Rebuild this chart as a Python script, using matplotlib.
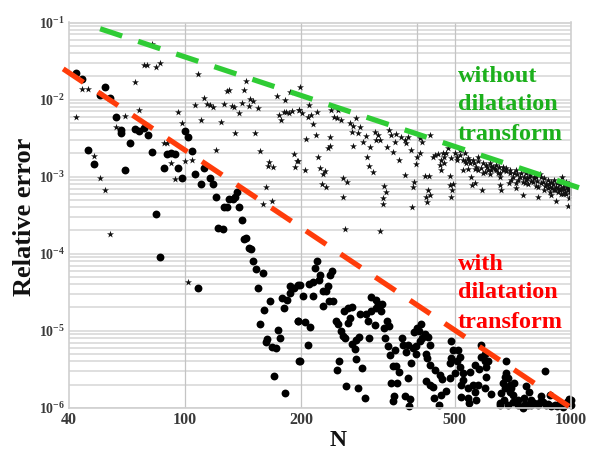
import numpy as np
import matplotlib
matplotlib.use('Agg')
import matplotlib.pyplot as plt

plt.rcParams['font.family'] = ['Liberation Serif', 'DejaVu Serif']
plt.rcParams['mathtext.fontset'] = 'custom'
plt.rcParams['mathtext.bf'] = 'Liberation Serif:bold'
plt.rcParams['mathtext.rm'] = 'Liberation Serif:bold'

# N and log10(relative error)
with_n = [52,54,62,60,64,66,74,76,78,68,68,80,72,56,82,58,70,88,90,92,94,96,98,100,102,104,106,110,112,116,118,120,126,128,130,133,135,136,138,140,84,
    122,125,142,144,146,148,150,153,159,154,86,108,166,160,156,178,184,180,187,187,191,196,174,176,163,162,168,172,196,197,170,182,
    220,217,224,222,240,237,210,215,198,235,232,227,202,214,242,236,228,196,205,211,208,198,246,249,253,256,260,264,268,258,264,270,284,295,304,313,304,312,316,324,322,298,310,333,337,327,329,283,278,271,276,300,335,349,339,250,247,278,288,261,281,292,
    364,367,378,389,374,397,385,352,345,359,378,342,354,347,345,371,383,380,409,399,393,404,418,426,412,405,432,397,422,424,432,444,457,463,485,420,432,439,475,461,441,455,
    490,495,510,515,490,485,505,515,524,546,500,524,519,541,519,541,544,557,574,597,563,568,622,583,585,597,603,563,579,603,680,854,673,686,666,693,673,693,660,706,653,686,706,728,750,765,780,757,788,804,836,880,845,862,907,934,990,1000,952,820,772,
    700,710,680,730,760,790,830,870,890,920,960,975,1000,655,670,600,610]
with_log = [-1.65,-1.73,-1.84,-1.94,-1.98,-2.23,-2.38,-2.41,-2.37,-2.40,-2.44,-2.46,-2.57,-2.65,-2.68,-2.84,-2.92,-2.89,-2.71,-2.70,-2.71,-2.89,-3.02,-2.41,-2.49,-2.67,-2.97,-3.10,-2.89,-3.02,-3.10,-3.26,-3.40,-3.40,-3.29,-3.29,-3.26,-3.20,-3.40,-3.57,-3.49,
    -3.67,-3.68,-3.81,-3.80,-3.93,-3.94,-4.10,-4.20,-4.25,-4.44,-4.04,-4.44,-4.62,-4.73,-4.92,-4.57,-4.60,-4.71,-4.51,-4.42,-4.45,-4.41,-4.99,-5.09,-5.11,-5.15,-5.21,-5.23,-4.88,-5.40,-5.59,-5.81,
    -4.09,-4.19,-4.28,-4.34,-4.23,-4.28,-4.40,-4.37,-4.41,-4.42,-4.48,-4.48,-4.55,-4.55,-4.61,-4.62,-4.68,-4.88,-4.89,-4.95,-5.19,-5.40,-4.87,-4.91,-5.00,-5.07,-5.10,-4.90,-4.84,-4.74,-4.71,-4.69,-4.79,-4.78,-4.75,-4.71,-4.56,-4.60,-4.66,-4.65,-4.74,-4.87,-4.93,-4.88,-4.94,-4.97,-5.09,-5.08,-5.12,-5.17,-5.24,-5.09,-5.20,-5.25,-5.31,-5.39,-5.51,-5.37,-5.48,-5.72,-5.75,-5.88,
    -5.09,-5.18,-5.18,-5.23,-5.28,-5.30,-5.42,-5.46,-5.46,-5.54,-5.61,-5.68,-5.68,-5.85,-5.91,-5.85,-5.89,-5.98,-4.91,-4.96,-5.02,-5.01,-5.04,-5.08,-5.10,-5.14,-5.19,-5.20,-5.30,-5.35,-5.45,-5.51,-5.58,-5.63,-5.61,-5.65,-5.71,-5.73,-5.78,-5.84,-5.87,-5.97,
    -5.14,-5.25,-5.25,-5.34,-5.36,-5.42,-5.40,-5.47,-5.55,-5.54,-5.55,-5.64,-5.71,-5.75,-5.86,-5.88,-5.94,-5.71,-5.71,-5.74,-5.79,-5.90,-5.82,-5.18,-5.34,-5.40,-5.47,-5.45,-5.50,-5.60,-5.39,-5.52,-5.60,-5.62,-5.68,-5.71,-5.75,-5.79,-5.81,-5.84,-5.94,-5.96,-5.92,-5.97,-6.00,-5.72,-5.79,-5.88,-5.90,-5.94,-5.85,-5.83,-5.92,-5.97,-5.97,-5.94,-5.89,-5.96,-5.99,-5.97,-5.97,
    -5.75,-5.68,-5.55,-5.90,-5.95,-5.97,-5.93,-5.95,-5.98,-5.98,-5.97,-5.93,-5.90,-5.97,-5.90,-5.30,-5.40]

without_n = [52,54,56,66,58,60,62,74,78,79.5,84,86,76,70,96,98,88,90,92,94,100,104,108,106,110,112,114,116,118,120,124,126,128,130,132,134,135,138,140,142,144,146,147,150,152,154,156,162,159,168,164,165,169,173,181,175,177,180,183,186,189,187,192,195,193,197,82,64,102,259,320,
    199,197,201,209,208,212,219,215,218,206,196,204,221,223,231,228,226,232,235,237,238,239,249,243,247,254,267,273,270,281,284,278,272,289,294,302,296,300,306,256,263,257,310,316,313,319,337,342,351,333,345,349,363,371,378,374,385,358,328,331,325,326,371,397,399,393,389,387,406,412,406,432,418,428,426,430,422,424,
    439,452,466,480,443,461,470,457,461,487,495,485,493,490,505,515,530,541,557,574,524,546,568,552,563,555,588,585,603,615,597,628,640,653,666,680,653,660,706,721,736,721,750,750,765,780,796,813,821,821,845,862,880,889,916,898,925,948,952,962,981,994,1000,986,981,944,836,693,622,574,535,505,524,640,609,647,700,765,804,871,934,971,907,
    830,850,870,890,905,920,935,950,965,975,985,995,1000,960,940,915,895,875,855,835,815,800,785,770,755,740,725,710,695,680,665,650,635,620,605,590,575,560,545,530,515,500,490,475,655,690,730,775,810,850,880,955,990,970,925,590,615,565,905,790,760,720,540,470]
without_log = [-2.23,-1.86,-1.86,-2.35,-2.73,-3.02,-3.17,-1.77,-1.55,-1.55,-1.58,-1.53,-2.13,-2.21,-2.16,-2.30,-2.56,-2.57,-2.83,-3.03,-2.80,-2.78,-1.67,-2.07,-2.27,-1.98,-2.06,-2.07,-2.10,-2.66,-2.29,-2.06,-1.89,-1.88,-2.09,-2.10,-2.43,-2.18,-2.04,-1.87,-1.76,-2.09,-1.99,-2.02,-2.43,-2.11,-2.67,-3.14,-3.35,-3.32,-2.86,-2.81,-2.88,-1.95,-2.01,-2.20,-2.26,-2.16,-2.16,-2.18,-2.15,-1.90,-2.71,-2.80,-2.88,-2.13,-1.28,-3.74,-4.37,-3.68,-3.71,
    -1.84,-2.13,-2.17,-2.07,-2.23,-2.20,-2.16,-2.32,-2.46,-2.51,-2.80,-2.91,-2.74,-2.89,-2.93,-2.97,-3.09,-3.14,-2.63,-2.60,-2.49,-2.14,-2.13,-2.23,-2.24,-2.26,-2.30,-2.34,-2.42,-2.44,-2.36,-2.24,-2.60,-2.55,-2.47,-2.62,-2.74,-2.86,-2.94,-3.02,-3.07,-3.27,-2.42,-2.46,-2.52,-2.53,-2.40,-2.46,-2.45,-2.61,-2.68,-2.55,-2.48,-2.52,-2.48,-2.57,-2.65,-2.78,-3.12,-3.20,-3.28,-3.36,-2.98,-2.84,-2.75,-3.07,-3.13,-3.40,-2.50,-2.55,-2.70,-2.46,-2.99,-2.99,-3.17,-3.24,-3.26,-3.33,
    -2.74,-2.71,-2.70,-2.63,-2.72,-2.78,-2.74,-2.85,-2.91,-2.99,-3.09,-3.11,-3.18,-3.26,-2.74,-2.65,-2.70,-2.76,-2.78,-2.74,-2.92,-2.83,-2.87,-3.00,-3.08,-3.11,-3.17,-2.89,-2.85,-2.83,-2.94,-2.87,-2.91,-3.00,-2.91,-2.89,-3.11,-3.18,-3.00,-2.91,-3.00,-3.15,-3.07,-3.24,-2.96,-3.00,-3.07,-3.00,-3.13,-3.26,-3.07,-3.09,-3.13,-3.24,-3.32,-3.09,-3.15,-3.00,-3.13,-3.20,-3.17,-3.11,-3.17,-3.28,-3.38,-3.22,-3.00,-2.91,-2.91,-2.91,-2.83,-2.78,-2.78,-2.85,-2.91,-2.96,-3.04,-3.04,-3.00,-3.15,-3.17,-3.22,-3.17,
    -2.97,-3.02,-3.05,-3.07,-3.05,-3.08,-3.10,-3.07,-3.10,-3.13,-3.15,-3.20,-3.23,-3.16,-3.16,-3.13,-3.15,-3.10,-3.12,-3.08,-3.06,-3.02,-2.98,-3.02,-3.00,-2.95,-2.97,-2.95,-2.96,-2.93,-2.88,-2.87,-2.90,-2.86,-2.88,-2.82,-2.80,-2.83,-2.78,-2.80,-2.72,-2.70,-2.76,-2.70,-2.95,-3.08,-3.05,-3.10,-3.12,-3.17,-3.20,-3.22,-3.10,-3.07,-3.20,-2.95,-2.97,-2.90,-3.18,-3.06,-3.08,-3.08,-2.90,-2.82]

green_n = [60.2, 1112]
green_err = [8.3e-2, 6.5e-4]
red_n = [48.3, 1000]
red_err = [2.5e-2, 1e-6]

x_ticks = [50, 100, 200, 500, 1000]
x_labels = ['40', '100', '200', '500', '1000']
x_grid = [100, 200, 400, 500, 1000]
y_ticks = [1e-6, 1e-5, 1e-4, 1e-3, 1e-2, 1e-1]
y_labels = [r'$\mathbf{10^{-6}}$', r'$\mathbf{10^{-5}}$', r'$\mathbf{10^{-4}}$',
            r'$\mathbf{10^{-3}}$', r'$\mathbf{10^{-2}}$', r'$\mathbf{10^{-1}}$']

fig = plt.figure(figsize=(5.96, 4.5), dpi=100)
ax = fig.add_axes([69 / 596, 1 - 407.7 / 450, 502 / 596, 385.2 / 450])
ax.set_xscale('log')
ax.set_yscale('log')
ax.set_xlim(50, 1000)
ax.set_ylim(1e-6, 1e-1)

for d in range(-6, -1):
    for m in range(1, 10):
        ax.axhline(m * 10.0 ** d, color='#dcdcdc', lw=1.3, zorder=1)
for x in x_grid:
    ax.axvline(x, color='#c4c4c4', lw=0.9, zorder=1)

ax.scatter(without_n, 10.0 ** np.array(without_log), marker='*', s=28, color='#111111',
           linewidths=0, zorder=2)
ax.scatter(with_n, 10.0 ** np.array(with_log), marker='o', s=32, color='black',
           linewidths=0, zorder=2, clip_on=False)

ax.plot(green_n, green_err, color='#2fcc35', lw=3.8, dashes=(4.4, 3.2),
        dash_capstyle='butt', clip_on=False, zorder=3)
ax.plot(red_n, red_err, color='#ff3c0a', lw=3.8, dashes=(4.6, 3.3),
        dash_capstyle='butt', clip_on=False, zorder=3)

ax.minorticks_off()
ax.set_xticks(x_ticks, x_labels)
ax.set_yticks(y_ticks, y_labels)
ax.tick_params(length=0, pad=3, labelcolor='#3a3a3a')
for lab in ax.get_xticklabels():
    lab.set_fontsize(11.5)
    lab.set_fontweight('bold')
for lab in ax.get_yticklabels():
    lab.set_fontsize(10)
for s in ax.spines.values():
    s.set_color('#d0d0d0')
    s.set_linewidth(1.2)

fig.text(25 / 596, 1 - 217 / 450, 'Relative error', rotation=90, fontsize=19, fontweight='bold',
         ha='center', va='center', color='#111111')
fig.text(338 / 596, 1 - 440 / 450, 'N', fontsize=17, fontweight='bold', ha='center', va='center',
         color='#111111')

for lbl, y in zip(['without', 'dilatation', 'transform'], [77, 105, 135]):
    fig.text(458 / 596, 1 - y / 450, lbl, fontsize=17.5, fontweight='bold', color='#1cb01c',
             ha='left', va='center')
for lbl, y in zip(['with', 'dilatation', 'transform'], [264, 293, 322]):
    fig.text(458 / 596, 1 - y / 450, lbl, fontsize=17.5, fontweight='bold', color='#ff0000',
             ha='left', va='center')

plt.savefig('out.png', dpi=100)
